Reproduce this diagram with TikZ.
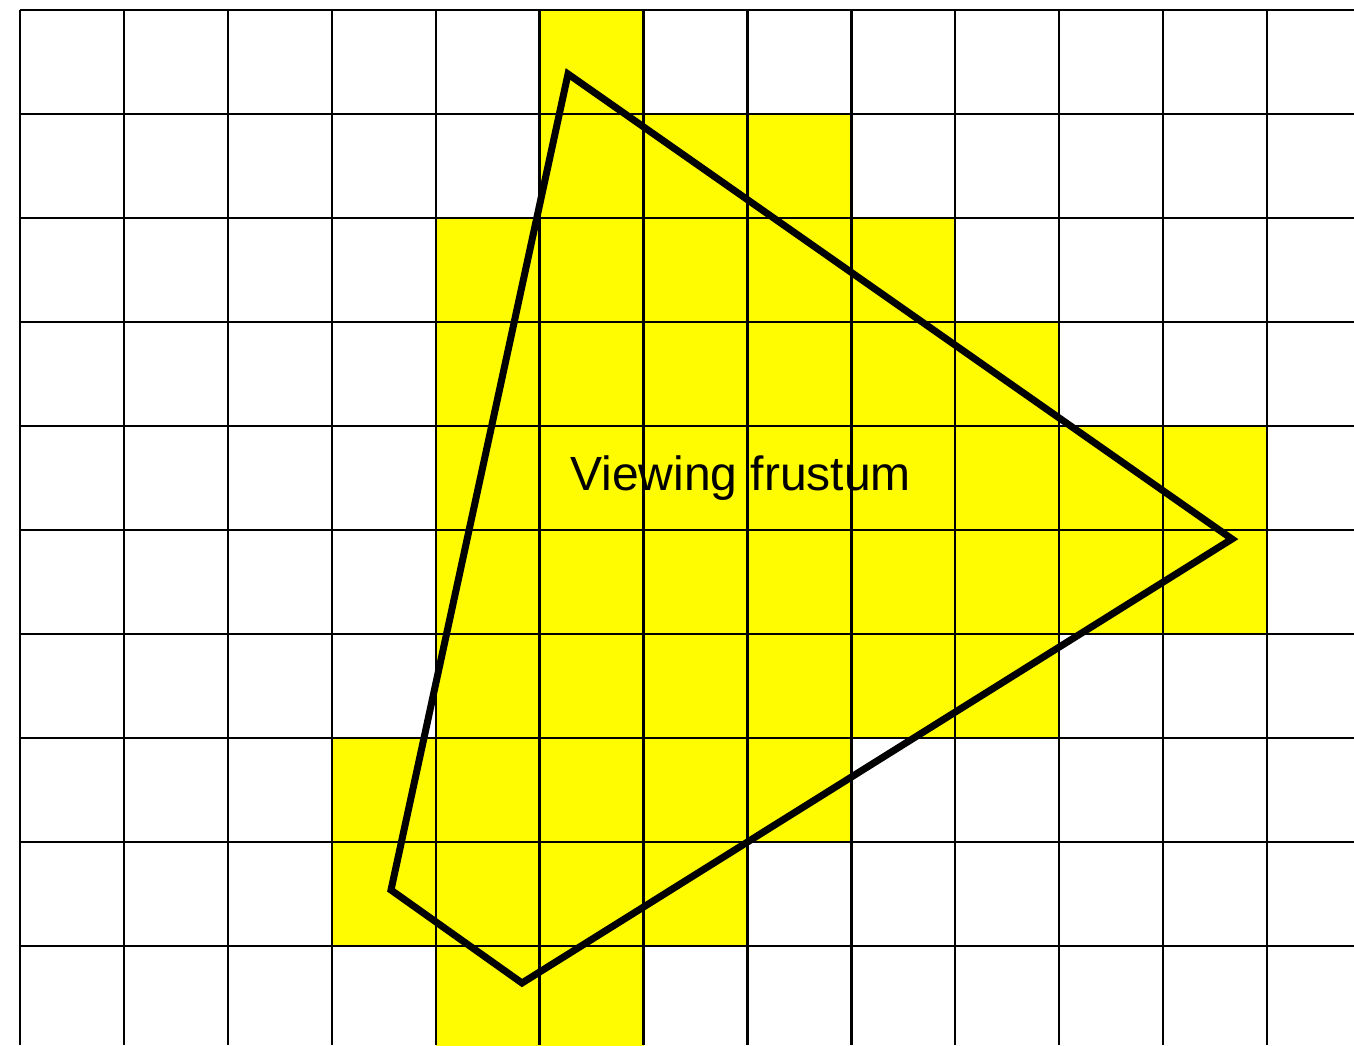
\documentclass[tikz,border=0pt]{standalone}
\usepackage{fontspec}
\setmainfont{Liberation Sans}
\begin{document}
\begin{tikzpicture}[x=1pt,y=-1pt,
  cellfill/.style={fill={rgb,255:red,255;green,251;blue,0}},
  gridline/.style={line width=2.3pt,black},
  frustum/.style={line width=7pt,black,line join=miter},
  lbl/.style={font=\fontsize{48}{50}\selectfont,inner sep=0pt}]
\useasboundingbox (0,0) rectangle (1354,1045);
\fill[white] (0,0) rectangle (1354,1045);
\def\gx{103.92}\def\gy{104}
% yellow cells: row/first col/last col
\foreach \r/\a/\b in {0/5/5,1/5/7,2/4/8,3/4/9,4/4/11,5/4/11,6/4/9,7/3/7,8/3/6,9/4/5}{
  \fill[cellfill] ({20+\a*\gx},{10+\r*\gy}) rectangle ({20+(\b+1)*\gx},{10+(\r+1)*\gy});
}
\node[lbl,anchor=base west] (label) at (570,490) {Viewing frustum};
\foreach \i in {0,...,12}{
  \draw[gridline] ({20+\i*\gx},10) -- ({20+\i*\gx},1045);
}
\foreach \j in {0,...,9}{
  \draw[gridline] (20,{10+\j*\gy}) -- (1354,{10+\j*\gy});
}
\coordinate (p1) at (568,74);
\coordinate (p2) at (1232,539);
\coordinate (p3) at (522,983);
\coordinate (p4) at (391,890);
\draw[frustum] (p1) -- (p2) -- (p3) -- (p4) -- cycle;
\end{tikzpicture}
\end{document}
